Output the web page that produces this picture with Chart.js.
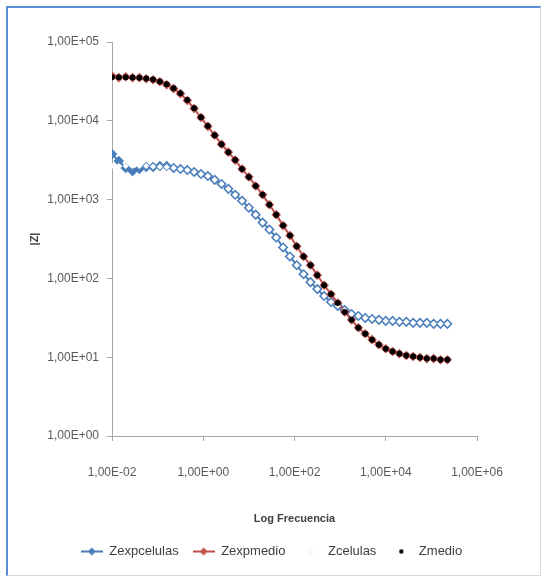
<!DOCTYPE html>
<html>
<head>
<meta charset="utf-8">
<script src="https://cdn.jsdelivr.net/npm/chart.js@4.4.1/dist/chart.umd.min.js"></script>
<style>
  html, body { margin: 0; padding: 0; background: #fff; }
  #wrap { position: relative; width: 543px; height: 579px; }
  #frame {
    position: absolute; left: 6px; top: 6px; width: 532px; height: 567px;
    border-left: 2px solid #5b8ed6; border-top: 2px solid #5b8ed6;
    border-right: 1px solid #d9d9d9; border-bottom: 1px solid #d9d9d9;
    pointer-events: none;
  }
  canvas { position: absolute; left: 0; top: 0; }
</style>
</head>
<body>
<div id="wrap">
  <canvas id="myChart" width="543" height="579"></canvas>
  <div id="frame"></div>
</div>
<script>
// frequencies (Hz), log-spaced
const frecuencia = [0.01, 0.0141, 0.02, 0.0282, 0.0398, 0.0562, 0.0794, 0.112, 0.158, 0.224,
  0.316, 0.447, 0.631, 0.891, 1.26, 1.78, 2.51, 3.55, 5.01, 7.08,
  10, 14.1, 20, 28.2, 39.8, 56.2, 79.4, 112, 158, 224,
  316, 447, 631, 891, 1259, 1778, 2512, 3548, 5012, 7079,
  10000, 14125, 19953, 28184, 39811, 56234, 79433, 112202, 158489, 223872];

const zexpcelulas = [3780, 3080, 2520, 2300, 2440, 2590, 2590, 2670, 2670, 2520,
  2440, 2370, 2240, 2110, 1990, 1780, 1580, 1370, 1150, 966,
  789, 644, 511, 417, 330, 247, 190, 147, 113, 89.6,
  73.1, 59.7, 50.1, 44.7, 39.7, 35.4, 33.4, 31.5, 30.6, 29.8,
  28.9, 28.9, 28.1, 28.1, 27.3, 27.3, 27.3, 26.5, 26.5, 26.5];

const zexpmedio = [37300, 35300, 36200, 35300, 35300, 34200, 33200, 31300, 28700, 25600,
  22100, 18100, 14300, 11000, 8500, 6550, 5040, 4000, 3170, 2440,
  1940, 1490, 1150, 860, 644, 468, 350, 255, 190, 147,
  110, 82, 63, 48.7, 37.5, 29.8, 23.6, 19.8, 16.7, 14.4,
  12.8, 11.8, 11.1, 10.5, 10.2, 9.9, 9.6, 9.6, 9.3, 9.3];

const zcelulas = [2670, 2670, 2670, 2670, 2670, 2670, 2630, 2610, 2590, 2520,
  2440, 2370, 2240, 2110, 1990, 1780, 1580, 1370, 1150, 966,
  789, 644, 511, 417, 330, 247, 190, 147, 113, 89.6,
  73.1, 59.7, 50.1, 44.7, 39.7, 35.4, 33.4, 31.5, 30.6, 29.8,
  28.9, 28.9, 28.1, 28.1, 27.3, 27.3, 27.3, 26.5, 26.5, 26.5];

const zmedio = [35800, 35700, 35600, 35400, 35100, 34500, 33400, 31600, 29000, 25800,
  22300, 18300, 14400, 11100, 8600, 6550, 5040, 4000, 3170, 2440,
  1940, 1490, 1150, 860, 644, 468, 350, 255, 190, 147,
  110, 82, 63, 48.7, 37.5, 29.8, 23.6, 19.8, 16.7, 14.4,
  12.8, 11.8, 11.1, 10.5, 10.2, 9.9, 9.6, 9.6, 9.3, 9.3];

const xTickValues = [0.01, 1, 100, 10000, 1000000];
const xTickLabels = ['1,00E-02', '1,00E+00', '1,00E+02', '1,00E+04', '1,00E+06'];
const yTickValues = [1, 10, 100, 1000, 10000, 100000];
const yTickLabels = ['1,00E+00', '1,00E+01', '1,00E+02', '1,00E+03', '1,00E+04', '1,00E+05'];

const AZUL = '#4a7ebb';
const ROJO = '#c0504d';
const FONT = "'Liberation Sans', Arial, sans-serif";

const toPoints = (vals) => vals.map((v, i) => ({ x: frecuencia[i], y: v }));

// small legend icons: line with a marker in the middle
function makeIcon(lineColor, fill, stroke, shape, r) {
  const c = document.createElement('canvas');
  c.width = 22; c.height = 12;
  const g = c.getContext('2d');
  if (lineColor) {
    g.strokeStyle = lineColor; g.lineWidth = 2;
    g.beginPath(); g.moveTo(0, 6); g.lineTo(22, 6); g.stroke();
  }
  g.fillStyle = fill;
  g.beginPath();
  if (shape === 'diamond') {
    g.moveTo(11, 6 - r); g.lineTo(11 + r, 6); g.lineTo(11, 6 + r); g.lineTo(11 - r, 6); g.closePath();
  } else {
    g.arc(11, 6, r, 0, Math.PI * 2);
  }
  g.fill();
  if (stroke) { g.strokeStyle = stroke; g.lineWidth = 1; g.stroke(); }
  return c;
}
const icons = [
  makeIcon(AZUL, AZUL, null, 'diamond', 4),
  makeIcon(ROJO, ROJO, null, 'diamond', 4),
  makeIcon(null, '#ffffff', '#efefef', 'diamond', 3),
  makeIcon(null, '#000000', null, 'circle', 2.2)
];

const axisColor = '#a6a6a6';

new Chart(document.getElementById('myChart'), {
  type: 'scatter',
  data: {
    datasets: [
      {
        label: 'Zexpcelulas',
        data: toPoints(zexpcelulas),
        showLine: true,
        borderColor: AZUL,
        borderWidth: 2,
        pointStyle: 'rectRot',
        pointRadius: 5.3,
        pointBackgroundColor: AZUL,
        pointBorderColor: AZUL,
        pointBorderWidth: 0,
        order: 3
      },
      {
        label: 'Zexpmedio',
        data: toPoints(zexpmedio),
        showLine: true,
        borderColor: ROJO,
        borderWidth: 2,
        pointStyle: 'rectRot',
        pointRadius: 4.8,
        pointBackgroundColor: ROJO,
        pointBorderColor: ROJO,
        pointBorderWidth: 0,
        order: 2
      },
      {
        label: 'Zcelulas',
        data: toPoints(zcelulas),
        showLine: false,
        pointStyle: 'rectRot',
        pointRadius: 3.1,
        pointBackgroundColor: '#ffffff',
        pointBorderColor: '#ffffff',
        pointBorderWidth: 0,
        order: 1
      },
      {
        label: 'Zmedio',
        data: toPoints(zmedio),
        showLine: false,
        pointStyle: 'circle',
        pointRadius: 3,
        pointBackgroundColor: '#000000',
        pointBorderColor: '#000000',
        pointBorderWidth: 0,
        order: 0
      }
    ]
  },
  options: {
    responsive: false,
    animation: false,
    layout: { padding: { top: 42, bottom: 11, left: 0, right: 0 } },
    plugins: {
      tooltip: { enabled: false },
      legend: {
        position: 'bottom',
        labels: {
          usePointStyle: true,
          pointStyleWidth: 22,
          boxHeight: 12,
          padding: 14,
          color: '#404040',
          font: { family: FONT, size: 13 },
          sort: (a, b) => a.datasetIndex - b.datasetIndex,
          generateLabels: (chart) => {
            const items = Chart.defaults.plugins.legend.labels.generateLabels(chart);
            items.forEach((it) => { it.pointStyle = icons[it.datasetIndex]; });
            return items;
          }
        }
      }
    },
    scales: {
      x: {
        type: 'logarithmic',
        position: 'bottom',
        min: 0.01,
        max: 1000000,
        afterBuildTicks: (s) => { s.ticks = xTickValues.map(v => ({ value: v })); },
        afterFit: (s) => { s.height = 95; },
        ticks: {
          autoSkip: false,
          maxRotation: 0,
          padding: 24,
          color: '#595959',
          font: { family: FONT, size: 12 },
          callback: (v, i) => xTickLabels[i]
        },
        grid: { drawOnChartArea: false, drawTicks: true, tickLength: 5, color: axisColor },
        border: { color: axisColor },
        title: {
          display: true,
          text: 'Log Frecuencia',
          color: '#404040',
          font: { family: FONT, size: 11, weight: 'bold' },
          padding: { top: 0, bottom: 5 }
        }
      },
      y: {
        type: 'logarithmic',
        position: 'left',
        min: 1,
        max: 100000,
        afterBuildTicks: (s) => { s.ticks = yTickValues.map(v => ({ value: v })); },
        afterFit: (s) => { s.width = 112; },
        ticks: {
          autoSkip: false,
          padding: 8,
          color: '#595959',
          font: { family: FONT, size: 12 },
          callback: (v, i) => yTickLabels[i]
        },
        grid: { drawOnChartArea: false, drawTicks: true, tickLength: 5, color: axisColor },
        border: { color: axisColor },
        title: {
          display: true,
          text: '|Z|',
          color: '#404040',
          font: { family: FONT, size: 11, weight: 'bold' },
          padding: { top: 28, bottom: 0 }
        }
      },
      derecha: {
        type: 'linear',
        position: 'right',
        display: true,
        ticks: { display: false },
        grid: { display: false },
        border: { display: false },
        afterFit: (s) => { s.width = 66; }
      }
    }
  }
});
</script>
</body>
</html>
